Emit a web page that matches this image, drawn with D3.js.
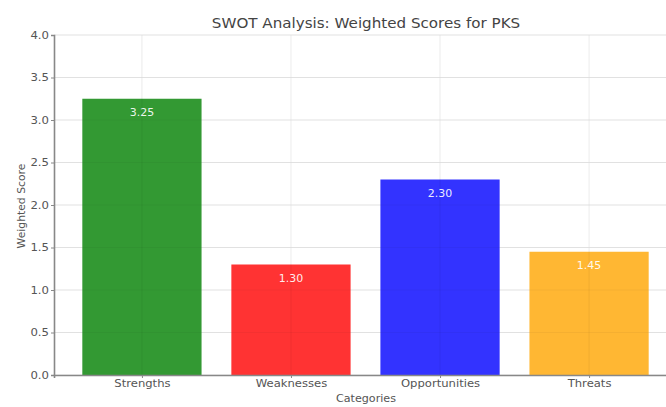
<!DOCTYPE html>
<html><head><meta charset="utf-8">
<script src="https://cdn.jsdelivr.net/npm/d3@7"></script>
<style>body{margin:0;background:#fff;} text{font-family:"DejaVu Sans",sans-serif;}</style>
</head><body>
<svg id="c" width="666" height="407"></svg>
<script>
const categories = ["Strengths","Weaknesses","Opportunities","Threats"];
const values = [3.25,1.30,2.30,1.45];
const colors = ["#339933","#ff3333","#3333ff","#ffb733"];
const yTicks = [0,0.5,1,1.5,2,2.5,3,3.5,4];

(function(){
const svg = d3.select("#c");
const mL = 54, mR = 677, mT = 35, mB = 375;
const x = d3.scaleLinear().domain([-0.59, 3.59]).range([mL, mR]);
const y = d3.scaleLinear().domain([0,4]).range([mB, mT]);
const bw = 0.8;

function stretch(sel, f){
  sel.each(function(){
    const n = this.getComputedTextLength();
    d3.select(this).attr("textLength", n*f).attr("lengthAdjust","spacingAndGlyphs");
  });
}

// grid
svg.append("g").selectAll("line").data(yTicks).join("line")
  .attr("x1", mL).attr("x2", mR).attr("y1", d=>y(d)).attr("y2", d=>y(d))
  .attr("stroke","#e6e6e6").attr("stroke-width",0.8);
svg.append("g").selectAll("line").data(categories).join("line")
  .attr("x1",(d,i)=>x(i)).attr("x2",(d,i)=>x(i)).attr("y1",mT).attr("y2",mB)
  .attr("stroke","#e6e6e6").attr("stroke-width",0.8);

// bars
svg.append("g").selectAll("rect").data(values).join("rect")
  .attr("x",(d,i)=>x(i-bw/2)).attr("width",(d,i)=>x(i+bw/2)-x(i-bw/2))
  .attr("y",d=>y(d)).attr("height",d=>y(0)-y(d))
  .attr("fill",(d,i)=>colors[i]);
svg.append("g").selectAll("line").data(categories).join("line")
  .attr("x1",(d,i)=>x(i)).attr("x2",(d,i)=>x(i)).attr("y1",(d,i)=>y(values[i])).attr("y2",mB)
  .attr("stroke","rgba(0,0,0,0.08)").attr("stroke-width",0.8);
svg.append("g").selectAll("line").data(yTicks.filter(t=>t>0)).join("line")
  .attr("x1", mL).attr("x2", mR).attr("y1", d=>y(d)).attr("y2", d=>y(d))
  .attr("stroke","rgba(0,0,0,0.05)").attr("stroke-width",0.8);

// value labels
const vl = svg.append("g").selectAll("text").data(values).join("text")
  .attr("x",(d,i)=>x(i)).attr("y",d=>y(d)+17)
  .attr("text-anchor","middle").attr("fill","#ffffff").attr("fill-opacity",0.92).attr("font-size",10)
  .text(d=>d.toFixed(2));
stretch(vl, 1.1);

// axes
const ya = d3.axisLeft(y).tickValues(yTicks).tickFormat(d3.format(".1f")).tickSize(3).tickPadding(2);
const gy = svg.append("g").attr("transform",`translate(${mL},0)`).call(ya);
gy.select(".domain").attr("stroke","#888").attr("stroke-width",1.6);
gy.selectAll(".tick line").attr("stroke","#888");
gy.selectAll("text").attr("fill","#555").attr("font-size",10).style("font-family","DejaVu Sans");
stretch(gy.selectAll("text"), 1.17);

const xa = d3.axisBottom(x).tickValues([0,1,2,3]).tickFormat(i=>categories[i]).tickSize(3).tickPadding(2);
const gx = svg.append("g").attr("transform",`translate(0,${mB})`).call(xa);
gx.select(".domain").attr("stroke","#888").attr("stroke-width",1.6);
gx.selectAll(".tick line").attr("stroke","#888");
gx.selectAll("text").attr("fill","#555").attr("font-size",10).style("font-family","DejaVu Sans");
stretch(gx.selectAll("text"), 1.16);

const t = svg.append("text").attr("x",366).attr("y",28).attr("text-anchor","middle")
  .attr("font-size",13.5).attr("fill","#444").text("SWOT Analysis: Weighted Scores for PKS");
stretch(t, 1.12);
const xl = svg.append("text").attr("x",366).attr("y",402).attr("text-anchor","middle")
  .attr("font-size",10.5).attr("fill","#555").text("Categories");
stretch(xl, 1.06);
svg.append("text").attr("transform",`translate(25,206) rotate(-90)`).attr("text-anchor","middle")
  .attr("font-size",10.8).attr("fill","#555").text("Weighted Score");
})();
</script>
</body></html>
